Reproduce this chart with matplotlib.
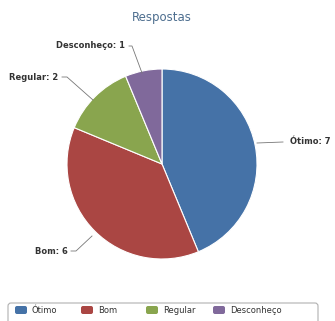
import matplotlib
matplotlib.use("Agg")
import matplotlib.pyplot as plt
from matplotlib.patches import FancyBboxPatch, Wedge

categories = ["Ótimo", "Bom", "Regular", "Desconheço"]
values = [7, 6, 2, 1]
colors = ["#4572A7", "#AA4643", "#89A54E", "#80699B"]
title = "Respostas"

W, H = 335, 321
fig = plt.figure(figsize=(W / 100, H / 100), dpi=100)
ax = fig.add_axes([0, 0, 1, 1])
ax.set_xlim(0, W)
ax.set_ylim(H, 0)
ax.axis("off")

cx, cy, r = 162, 164, 95
total = sum(values)
start = 90.0
for v, c in zip(values, colors):
    sweep = 360.0 * v / total
    t1 = start - sweep
    w = Wedge((cx, cy), r, -start, -t1, facecolor=c, edgecolor="white", linewidth=0.8)
    ax.add_patch(w)
    start = t1

lab_fs = 6
label_specs = [
    ((290, 142), "left", [(257, 143), (283, 142)]),
    ((68, 251), "right", [(71, 251), (76, 251), (92, 236)]),
    ((58, 78), "right", [(62, 77), (67, 77), (93, 100)]),
    ((125, 46), "right", [(129, 46), (132, 46), (142, 73)]),
]
for cat, v, (pos, ha, pts) in zip(categories, values, label_specs):
    ax.text(pos[0], pos[1], f"{cat}: {v}", fontsize=lab_fs, ha=ha, va="center",
            color="#333333", fontweight="semibold", family="DejaVu Sans")
    xs, ys = zip(*pts)
    ax.plot(xs, ys, color="#777777", lw=0.6)

ax.text(162, 18, title, fontsize=8.5, ha="center", va="center", color="#4D6E8F")

box = FancyBboxPatch((8, 303), 310, 24, boxstyle="round,pad=0,rounding_size=3",
                     facecolor="white", edgecolor="#B0B0B0", linewidth=0.8)
ax.add_patch(box)
leg_x = [15, 81, 146, 213]
for x, cat, c in zip(leg_x, categories, colors):
    ax.add_patch(FancyBboxPatch((x, 306), 12, 8, boxstyle="round,pad=0,rounding_size=2",
                                facecolor=c, edgecolor="none"))
    ax.text(x + 17, 310.5, cat, fontsize=6, ha="left", va="center", color="#333333")

fig.savefig("out.png", dpi=100)
